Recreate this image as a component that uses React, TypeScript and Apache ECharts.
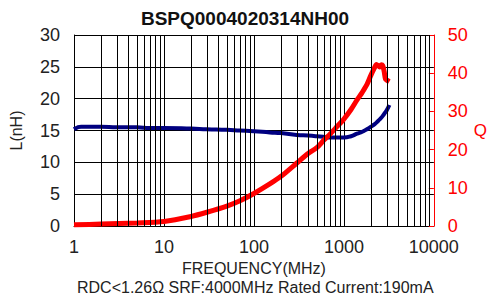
import React, { useEffect, useRef } from "react";
import * as echarts from "echarts";

const titleText = "BSPQ0004020314NH00";
const footnote = "RDC<1.26Ω SRF:4000MHz Rated Current:190mA";

const freqL = [1, 1.1, 1.2, 1.5, 2, 3, 5, 7, 10, 20, 30, 50, 70, 100, 150, 200, 300, 400, 500, 600, 700, 800, 1000, 1200, 1400, 1600, 1800, 2000, 2200, 2400, 2600, 2800, 3000, 3200];
const inductance = [15.2, 15.5, 15.6, 15.6, 15.6, 15.5, 15.5, 15.4, 15.4, 15.3, 15.2, 15.1, 15.0, 14.9, 14.7, 14.6, 14.3, 14.2, 14.1, 14.0, 13.9, 13.9, 13.9, 14.1, 14.5, 14.8, 15.2, 15.6, 16.0, 16.5, 17.0, 17.6, 18.2, 19.0];

const freqQ = [1, 2, 5, 10, 20, 30, 50, 70, 100, 150, 200, 300, 400, 500, 600, 700, 800, 1000, 1200, 1400, 1600, 1800, 2000, 2200, 2300, 2400, 2500, 2600, 2700, 2800, 2900, 3000, 3200];
const qFactor = [0.3, 0.5, 0.8, 1.2, 2.5, 3.6, 5.2, 6.6, 8.5, 11, 13, 16.5, 19, 20.5, 22.5, 24, 25.5, 28, 30.5, 33, 35, 37, 39.5, 41.5, 42.3, 42.0, 41.6, 42.2, 42.0, 40.5, 38.5, 38.2, 37.8];

const minorFreqs = [2, 3, 4, 5, 6, 7, 8, 9, 20, 30, 40, 50, 60, 70, 80, 90, 200, 300, 400, 500, 600, 700, 800, 900, 2000, 3000, 4000, 5000, 6000, 7000, 8000, 9000];

const FONT = "Arial, 'Liberation Sans', sans-serif";

export default function App() {
  const ref = useRef<HTMLDivElement>(null);
  useEffect(() => {
    if (!ref.current) return;
    const chart = echarts.init(ref.current, null, { renderer: "svg" });
    chart.setOption({
      animation: false,
      backgroundColor: "#ffffff",
      textStyle: { fontFamily: FONT },
      title: {
        text: titleText,
        left: "center",
        top: 4,
        textStyle: { fontSize: 19, fontWeight: "bold", color: "#111", fontFamily: FONT },
      },
      graphic: [
        {
          type: "text",
          left: 77,
          top: 279,
          style: { text: footnote, fontSize: 16, fill: "#222", fontFamily: FONT },
        },
      ],
      grid: { left: 68, right: 50, top: 35, bottom: 71 },
      xAxis: {
        type: "log",
        logBase: 10,
        min: 1,
        max: 10000,
        axisLine: { show: true, lineStyle: { color: "#000", width: 1 } },
        axisTick: { show: false },
        splitLine: { show: true, lineStyle: { color: "#000", width: 1 } },
        axisLabel: {
          fontSize: 18,
          color: "#222",
          margin: 12,
          fontFamily: FONT,
          formatter: (v: number) => String(Math.round(v)),
        },
        name: "FREQUENCY(MHz)",
        nameLocation: "middle",
        nameGap: 34,
        nameTextStyle: { fontSize: 16, color: "#222", fontFamily: FONT },
      },
      yAxis: [
        {
          type: "value",
          min: 0,
          max: 30,
          interval: 5,
          position: "left",
          axisLine: { show: true, lineStyle: { color: "#000", width: 1 } },
          axisTick: { show: false },
          splitLine: { show: true, lineStyle: { color: "#000", width: 1 } },
          axisLabel: { fontSize: 18, color: "#222", margin: 14, fontFamily: FONT },
          name: "L(nH)",
          nameLocation: "middle",
          nameGap: 50,
          nameRotate: 90,
          nameTextStyle: { fontSize: 16, color: "#222", fontFamily: FONT },
        },
        {
          type: "value",
          min: 0,
          max: 50,
          interval: 10,
          position: "right",
          axisLine: { show: true, lineStyle: { color: "#ff0000", width: 1 } },
          axisTick: { show: true, inside: true, length: 5, lineStyle: { color: "#ff0000" } },
          splitLine: { show: false },
          axisLabel: { fontSize: 18, color: "#ff0000", margin: 14, fontFamily: FONT },
          name: "Q",
          nameLocation: "middle",
          nameGap: 31,
          nameRotate: 0,
          nameTextStyle: { fontSize: 17, color: "#ff0000", fontFamily: FONT, padding: [12, 0, 0, 0] },
        },
      ],
      series: [
        {
          type: "line",
          name: "grid",
          data: [],
          z: 1,
          silent: true,
          markLine: {
            silent: true,
            symbol: ["none", "none"],
            label: { show: false },
            lineStyle: { color: "#000", width: 1, type: "solid" },
            data: minorFreqs.map((v) => ({ xAxis: v })),
          },
        },
        {
          type: "line",
          name: "L",
          yAxisIndex: 0,
          data: freqL.map((f, i) => [f, inductance[i]]),
          showSymbol: false,
          smooth: true,
          z: 3,
          lineStyle: { color: "#000080", width: 4 },
        },
        {
          type: "line",
          name: "Q",
          yAxisIndex: 1,
          data: freqQ.map((f, i) => [f, qFactor[i]]),
          showSymbol: false,
          smooth: 0.3,
          z: 4,
          lineStyle: { color: "#ff0000", width: 5 },
        },
      ],
    });
    return () => chart.dispose();
  }, []);
  return (
    <div
      ref={ref}
      style={{ position: "fixed", left: 0, top: 0, width: 490, height: 297 }}
    />
  );
}
